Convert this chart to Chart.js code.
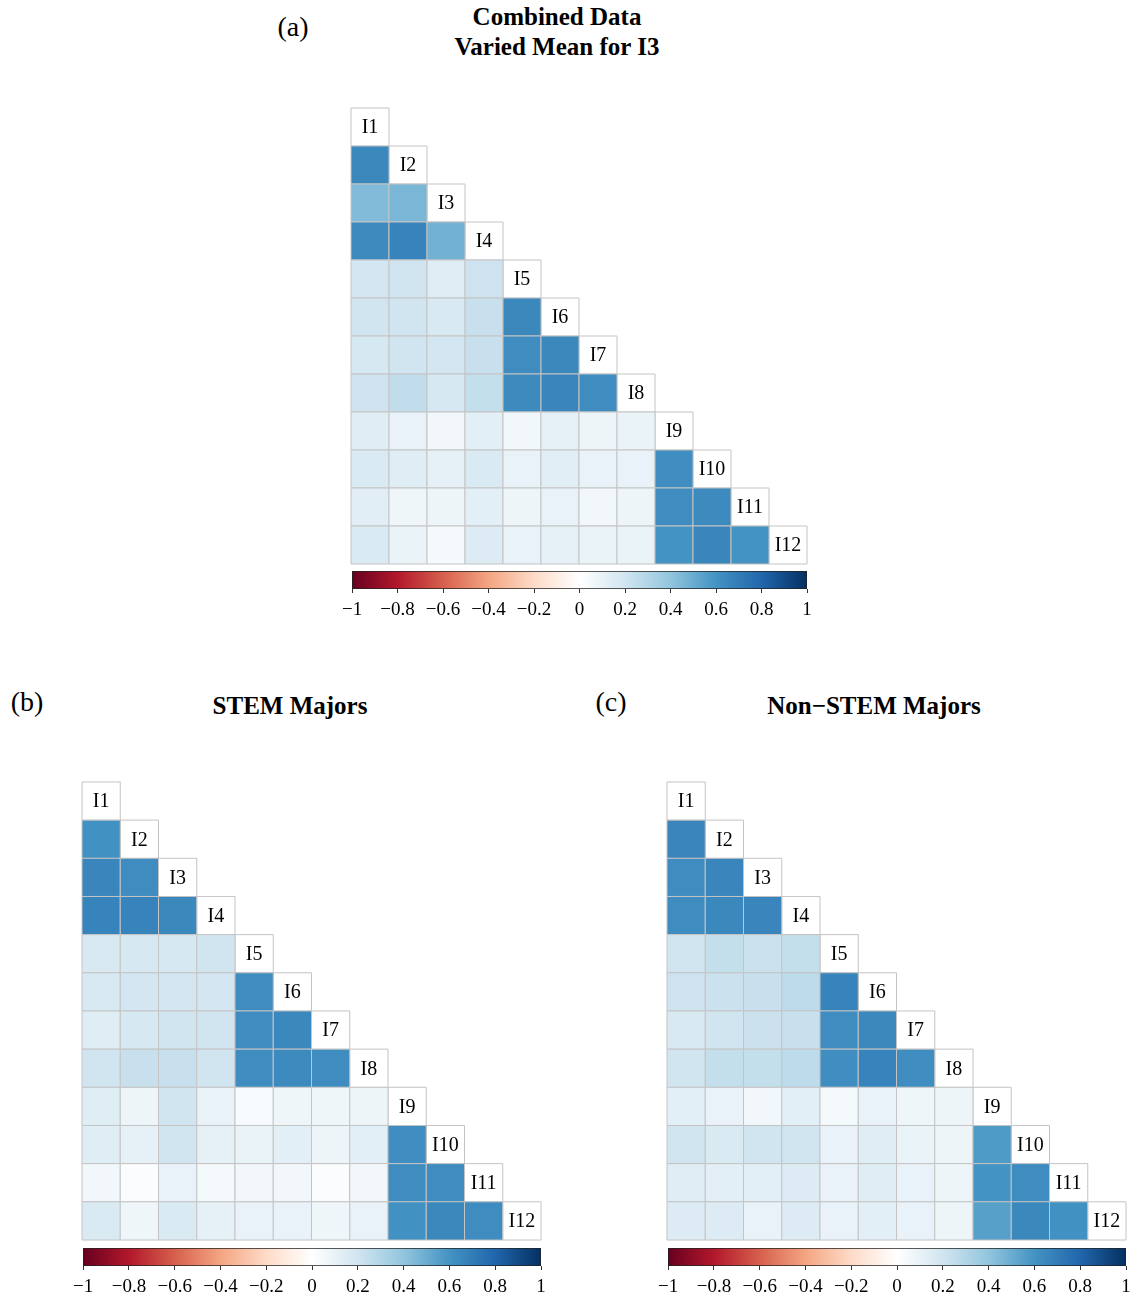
<!DOCTYPE html>
<html lang="en">
<head>
<meta charset="UTF-8">
<title>Correlation matrices</title>
<script src="https://cdn.jsdelivr.net/npm/chart.js"></script>
<style>
body {
    margin: 0;
    width: 1132px;
    height: 1298px;
    background: #fff;
    position: relative;
    font-family: "Liberation Serif", "DejaVu Serif", serif;
    color: #000;
}
canvas { position: absolute; }
.tag, .title {
    position: absolute;
    white-space: nowrap;
    transform: translate(-50%, -50%);
    line-height: 1.2;
}
.tag { font-size: 28px; }
.title { font-size: 25px; font-weight: bold; text-align: center; }
</style>
</head>
<body>

<div class="tag" style="left:293px; top:27px;">(a)</div>
<div class="title" style="left:557px; top:32px;">Combined Data<br>Varied Mean for I3</div>
<div class="tag" style="left:27px; top:702px;">(b)</div>
<div class="title" style="left:290px; top:706px;">STEM Majors</div>
<div class="tag" style="left:611px; top:702px;">(c)</div>
<div class="title" style="left:874px; top:706px;">Non&minus;STEM Majors</div>

<canvas id="matA" width="466" height="466" style="left:346px; top:103px;"></canvas>
<canvas id="barA" width="486" height="60" style="left:336px; top:566px;"></canvas>
<canvas id="matB" width="469" height="468" style="left:77px; top:777px;"></canvas>
<canvas id="barB" width="489" height="60" style="left:67px; top:1243px;"></canvas>
<canvas id="matC" width="469" height="468" style="left:662px; top:777px;"></canvas>
<canvas id="barC" width="489" height="60" style="left:652px; top:1243px;"></canvas>

<script>
// item names on the diagonal
const items = ["I1","I2","I3","I4","I5","I6","I7","I8","I9","I10","I11","I12"];

// lower triangle, row i holds correlations with items 1..i-1
const combinedRows = [
    [],
    [0.65],
    [0.44, 0.46],
    [0.64, 0.67, 0.48],
    [0.19, 0.20, 0.14, 0.21],
    [0.20, 0.20, 0.17, 0.23, 0.65],
    [0.18, 0.20, 0.19, 0.23, 0.63, 0.65],
    [0.21, 0.25, 0.18, 0.24, 0.64, 0.66, 0.63],
    [0.14, 0.10, 0.06, 0.12, 0.06, 0.11, 0.08, 0.09],
    [0.16, 0.14, 0.11, 0.16, 0.10, 0.13, 0.10, 0.10, 0.62],
    [0.13, 0.07, 0.08, 0.12, 0.08, 0.10, 0.06, 0.08, 0.63, 0.64],
    [0.16, 0.09, 0.05, 0.15, 0.10, 0.11, 0.09, 0.09, 0.60, 0.66, 0.60]
];

const stemRows = [
    [],
    [0.61],
    [0.66, 0.63],
    [0.67, 0.67, 0.65],
    [0.17, 0.18, 0.18, 0.20],
    [0.17, 0.19, 0.19, 0.19, 0.63],
    [0.14, 0.18, 0.20, 0.20, 0.63, 0.65],
    [0.20, 0.23, 0.23, 0.20, 0.63, 0.64, 0.63],
    [0.14, 0.08, 0.20, 0.10, 0.04, 0.07, 0.07, 0.08],
    [0.14, 0.11, 0.20, 0.11, 0.09, 0.12, 0.08, 0.12, 0.62],
    [0.06, 0.02, 0.10, 0.05, 0.06, 0.06, 0.02, 0.06, 0.63, 0.63],
    [0.16, 0.07, 0.16, 0.11, 0.10, 0.10, 0.07, 0.10, 0.61, 0.65, 0.63]
];

const nonStemRows = [
    [],
    [0.66],
    [0.63, 0.66],
    [0.63, 0.65, 0.66],
    [0.20, 0.24, 0.22, 0.24],
    [0.21, 0.22, 0.23, 0.26, 0.67],
    [0.17, 0.20, 0.22, 0.23, 0.63, 0.65],
    [0.20, 0.24, 0.24, 0.26, 0.62, 0.67, 0.62],
    [0.12, 0.10, 0.06, 0.12, 0.05, 0.10, 0.07, 0.08],
    [0.20, 0.16, 0.20, 0.20, 0.10, 0.14, 0.09, 0.08, 0.57],
    [0.14, 0.12, 0.12, 0.15, 0.10, 0.14, 0.10, 0.08, 0.60, 0.63],
    [0.15, 0.15, 0.10, 0.15, 0.10, 0.12, 0.10, 0.08, 0.55, 0.65, 0.61]
];

// colour bar ticks
const barTicks = [-1, -0.8, -0.6, -0.4, -0.2, 0, 0.2, 0.4, 0.6, 0.8, 1];

// RdBu palette, from -1 to 1
const rdbu = ["#67001F","#B2182B","#D6604D","#F4A582","#FDDBC7","#FFFFFF",
              "#D1E5F0","#92C5DE","#4393C3","#2166AC","#053061"];

function hexRgb(h){
    return [parseInt(h.slice(1,3),16), parseInt(h.slice(3,5),16), parseInt(h.slice(5,7),16)];
}

function corrColor(v){
    let t=(v+1)/2*(rdbu.length-1);
    let k=Math.min(Math.floor(t), rdbu.length-2);
    let f=t-k;
    const a=hexRgb(rdbu[k]), b=hexRgb(rdbu[k+1]);
    const c=a.map((x,i)=>Math.round(x+(b[i]-x)*f));
    return `rgb(${c[0]},${c[1]},${c[2]})`;
}

const serif='"Liberation Serif", "DejaVu Serif", serif';

// square side in pixels -> radius for the 'rect' point style
function cellRadius(ctx){
    const s=ctx.chart.scales.x;
    return (s.getPixelForValue(1)-s.getPixelForValue(0))/Math.SQRT2;
}

const diagLabels={
    id:"diagLabels",
    afterDatasetsDraw(chart){
        const c=chart.ctx, xs=chart.scales.x, ys=chart.scales.y;
        c.save();
        c.font="20px "+serif;
        c.fillStyle="#000";
        c.textAlign="center";
        c.textBaseline="middle";
        chart.data.datasets[1].data.forEach(d=>{
            c.fillText(d.label, xs.getPixelForValue(d.x), ys.getPixelForValue(d.y)+1);
        });
        c.restore();
    }
};

function matrixChart(id, rows){
    const cells=[], diag=[];
    rows.forEach((r,i)=>{
        r.forEach((v,j)=>cells.push({x:j+1, y:i+1, v:v}));
        diag.push({x:i+1, y:i+1, label:items[i]});
    });
    new Chart(document.getElementById(id),{
        type:"scatter",
        data:{datasets:[
            {data:cells, pointStyle:"rect", pointRadius:cellRadius,
             backgroundColor:c=>c.raw?corrColor(c.raw.v):"#fff",
             borderColor:"#C4C4C4", borderWidth:1, clip:false},
            {data:diag, pointStyle:"rect", pointRadius:cellRadius,
             backgroundColor:"#fff", borderColor:"#C4C4C4", borderWidth:1, clip:false}
        ]},
        options:{
            responsive:false, animation:false, events:[],
            layout:{padding:5},
            plugins:{legend:{display:false}, tooltip:{enabled:false}},
            scales:{
                x:{type:"linear", min:0.5, max:12.5, display:false},
                y:{type:"linear", min:0.5, max:12.5, reverse:true, display:false}
            }
        },
        plugins:[diagLabels]
    });
}

function fmtTick(v){
    if(v===0) return "0";
    return (v<0?"\u2212":"")+String(Math.abs(v));
}

function colorBar(id){
    new Chart(document.getElementById(id),{
        type:"bar",
        data:{labels:[""], datasets:[{
            data:[[-1,1]],
            backgroundColor:ctx=>{
                const a=ctx.chart.chartArea;
                if(!a) return "#fff";
                const g=ctx.chart.ctx.createLinearGradient(a.left,0,a.right,0);
                rdbu.forEach((col,k)=>g.addColorStop(k/(rdbu.length-1),col));
                return g;
            },
            borderColor:"#222", borderWidth:1, borderSkipped:false,
            barPercentage:1, categoryPercentage:1
        }]},
        options:{
            indexAxis:"y", responsive:false, animation:false, events:[],
            layout:{padding:{left:15, right:15, top:5, bottom:0}},
            plugins:{legend:{display:false}, tooltip:{enabled:false}},
            scales:{
                y:{display:false},
                x:{
                    type:"linear", min:-1, max:1,
                    afterBuildTicks:ax=>{ ax.ticks=barTicks.map(v=>({value:v})); },
                    afterFit:ax=>{ ax.height=37; },
                    grid:{drawOnChartArea:false, drawTicks:true, tickLength:4, color:"#333"},
                    border:{display:false},
                    ticks:{callback:fmtTick, color:"#000", maxRotation:0, autoSkip:false,
                           padding:6, font:{family:serif, size:19}}
                }
            }
        }
    });
}

matrixChart("matA", combinedRows);
matrixChart("matB", stemRows);
matrixChart("matC", nonStemRows);
colorBar("barA");
colorBar("barB");
colorBar("barC");
</script>
</body>
</html>
